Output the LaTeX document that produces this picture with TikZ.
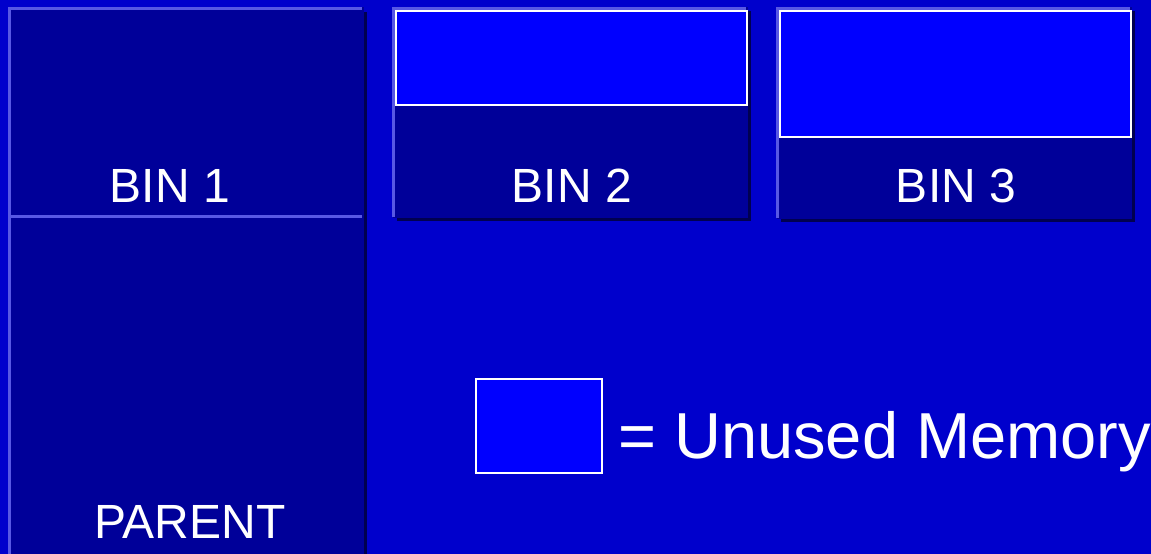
\documentclass[tikz,border=0pt]{standalone}
\usepackage{fontspec}
\setmainfont{Liberation Sans}
\definecolor{slidebg}{RGB}{0,0,204}
\definecolor{binfill}{RGB}{0,0,153}
\definecolor{binlight}{RGB}{88,88,228}
\definecolor{binshade}{RGB}{0,0,80}
\definecolor{unusedmem}{RGB}{0,0,255}

\tikzset{
  binlabel/.style={text=white, inner sep=0pt, anchor=base, font=\fontsize{48}{48}\selectfont},
  unusedbox/.style={draw=white, line width=2pt, fill=unusedmem},
  binedge/.style={binlight, line width=3pt}
}

\begin{document}
\begin{tikzpicture}[x=1pt, y=-1pt]
  \fill[slidebg] (0,0) rectangle (1151,554);
  \useasboundingbox (0,0) rectangle (1151,554);
  % bin 1 and parent
  \fill[binshade] (12,12) rectangle (367,560);
  \fill[binfill] (8,7) rectangle (364,560);
  \draw[binedge] (9.5,560) -- (9.5,8.5) -- (362,8.5);
  \draw[binedge] (9.5,216) -- (362,216);
  \node[binlabel] (bin1) at (170,202) {BIN 1};
  \node[binlabel] (parent) at (190,538) {PARENT};
  % bin 2
  \fill[binshade] (397,11) rectangle (751,221);
  \fill[binfill] (393,7) rectangle (748,218);
  \draw[binedge] (393.5,217) -- (393.5,8.5) -- (746,8.5);
  \draw[unusedbox] (396,11) rectangle (747,105);
  \node[binlabel] (bin2) at (572,202) {BIN 2};
  % bin 3
  \fill[binshade] (781,11) rectangle (1135,222);
  \fill[binfill] (777,7) rectangle (1132,219);
  \draw[binedge] (777.5,218) -- (777.5,8.5) -- (1130,8.5);
  \draw[unusedbox] (780,11) rectangle (1131,137);
  \node[binlabel] (bin3) at (956,202) {BIN 3};
  % legend
  \draw[unusedbox] (476,379) rectangle (602,473);
  \node[text=white, inner sep=0pt, anchor=base west, font=\fontsize{65}{65}\selectfont]
    (legend) at (618,458) {= Unused Memory};
\end{tikzpicture}
\end{document}
